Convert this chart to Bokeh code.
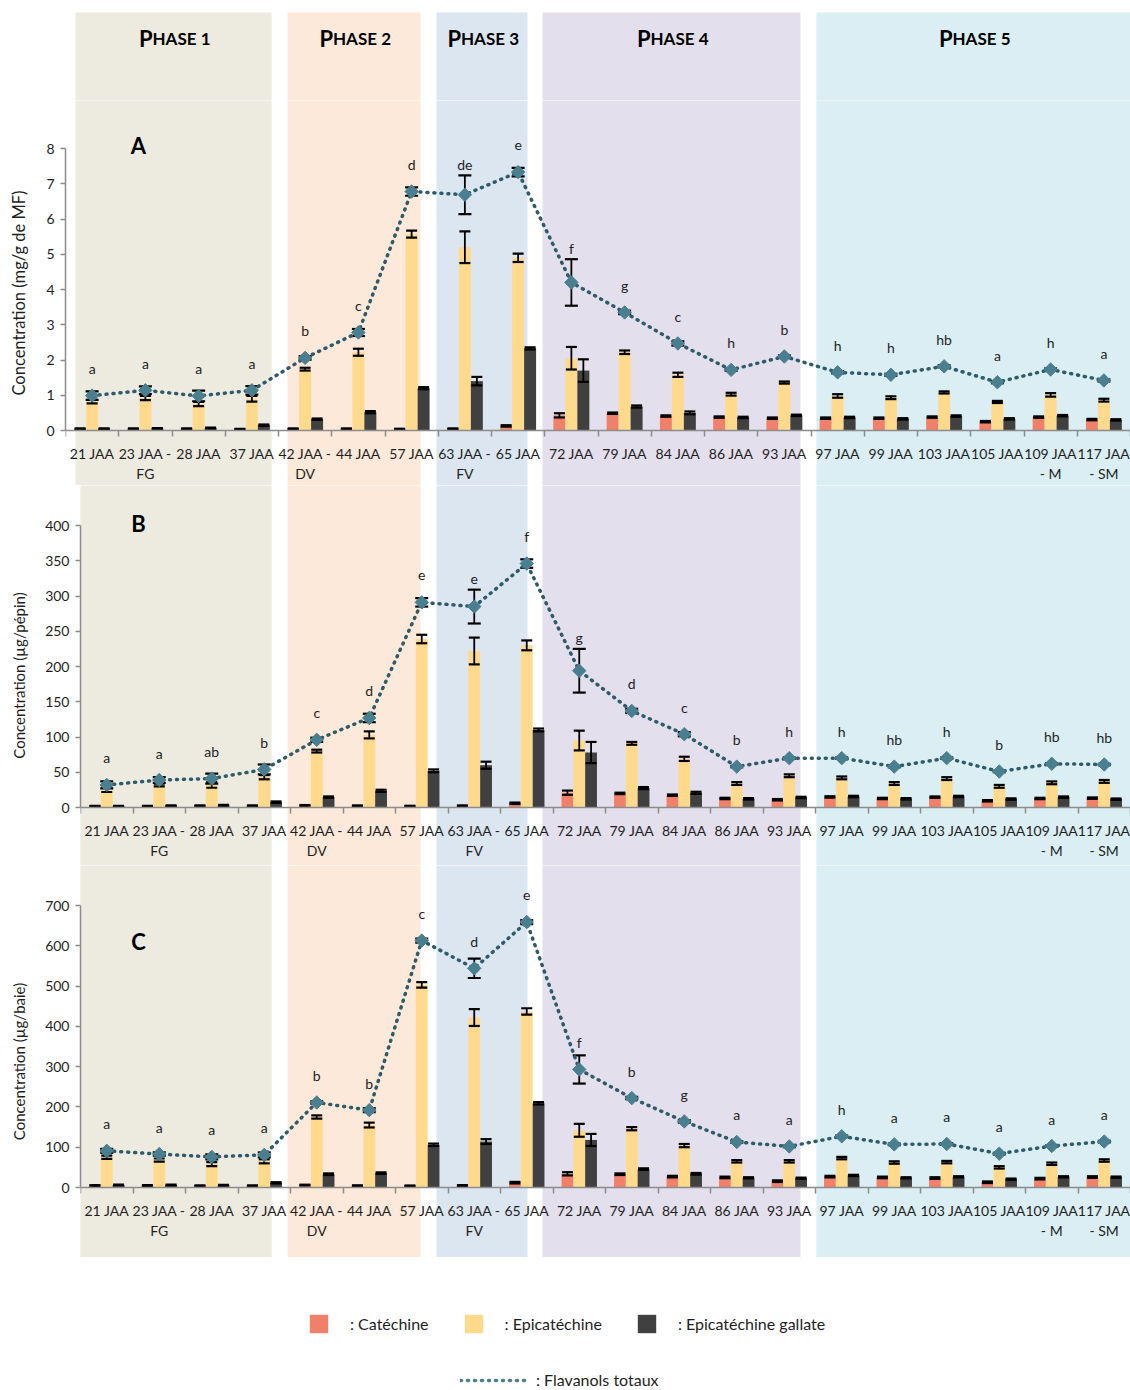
import numpy as np
from bokeh.plotting import figure
from bokeh.models import (Range1d, FixedTicker, Whisker, TeeHead, ColumnDataSource,
                          Legend, LegendItem, Label)
from bokeh.layouts import column
from bokeh.embed import file_html
from bokeh.resources import INLINE
from bokeh.core.properties import value

# ---------------- data ----------------
categories = ["21 JAA", "23 JAA", "28 JAA", "37 JAA", "42 JAA", "44 JAA", "57 JAA",
              "63 JAA", "65 JAA", "72 JAA", "79 JAA", "84 JAA", "86 JAA", "93 JAA",
              "97 JAA", "99 JAA", "103 JAA", "105 JAA", "109 JAA", "117 JAA"]
tick_labels = ["21 JAA", "23 JAA -\nFG", "28 JAA", "37 JAA", "42 JAA -\nDV", "44 JAA",
               "57 JAA", "63 JAA -\nFV", "65 JAA", "72 JAA", "79 JAA", "84 JAA", "86 JAA",
               "93 JAA", "97 JAA", "99 JAA", "103 JAA", "105 JAA", "109 JAA\n- M",
               "117 JAA\n- SM"]
phase_names = ["1", "2", "3", "4", "5"]

# Panel A : mg/g de MF
A_cat = [0.05, 0.05, 0.05, 0.04, 0.05, 0.05, 0.04, 0.05, 0.13, 0.43, 0.49, 0.41, 0.38, 0.35,
         0.35, 0.35, 0.38, 0.25, 0.38, 0.31]
A_cat_err = [0.01, 0.01, 0.01, 0.01, 0.01, 0.01, 0.01, 0.01, 0.02, 0.06, 0.02, 0.02, 0.02, 0.02,
             0.02, 0.02, 0.02, 0.02, 0.02, 0.02]
A_epi = [0.82, 0.92, 0.75, 0.90, 1.74, 2.22, 5.57, 5.20, 4.90, 2.05, 2.22, 1.58, 1.03, 1.36,
         0.98, 0.93, 1.08, 0.81, 1.01, 0.86]
A_epi_err = [0.05, 0.06, 0.06, 0.08, 0.04, 0.10, 0.10, 0.45, 0.12, 0.32, 0.05, 0.06, 0.04, 0.03,
             0.05, 0.04, 0.03, 0.03, 0.05, 0.04]
A_ecg = [0.05, 0.06, 0.07, 0.15, 0.32, 0.52, 1.20, 1.40, 2.33, 1.70, 0.68, 0.50, 0.37, 0.43,
         0.37, 0.33, 0.41, 0.33, 0.42, 0.30]
A_ecg_err = [0.01, 0.01, 0.01, 0.02, 0.02, 0.03, 0.03, 0.12, 0.03, 0.32, 0.03, 0.04, 0.02, 0.02,
             0.02, 0.02, 0.02, 0.02, 0.02, 0.02]
A_tot = [0.99, 1.14, 0.98, 1.14, 2.06, 2.78, 6.78, 6.69, 7.33, 4.20, 3.35, 2.47, 1.72, 2.10,
         1.65, 1.58, 1.82, 1.37, 1.73, 1.42]
A_tot_err = [0.12, 0.11, 0.15, 0.12, 0.05, 0.10, 0.12, 0.55, 0.12, 0.66, 0.05, 0.06, 0.03, 0.03,
             0.03, 0.03, 0.03, 0.03, 0.03, 0.03]
A_letters = ["a", "a", "a", "a", "b", "c", "d", "de", "e", "f", "g", "c", "h", "b", "h", "h",
             "hb", "a", "h", "a"]

# Panel B : µg/pépin
B_cat = [2, 2, 2.5, 2.5, 3, 2.5, 2, 2.5, 6, 21, 20, 17.5, 12.8, 11, 15, 12.8, 14.7, 9.5, 12.8, 13.3]
B_cat_err = [0.5, 0.5, 0.5, 0.5, 0.5, 0.5, 0.5, 0.5, 1, 3, 1, 1, 1, 1, 1, 1, 1, 1, 1, 1]
B_epi = [25, 32, 32, 43, 80, 103, 239, 222, 230, 95, 91, 69, 34, 45, 42, 34, 41, 30, 35, 37]
B_epi_err = [3, 2, 4, 3, 2, 5, 6, 19, 7, 14, 2, 3, 2, 2, 2, 2, 2, 2, 2, 2]
B_ecg = [2, 2.5, 3.3, 7.6, 14.7, 23.7, 52, 60, 110, 78, 27.5, 20.8, 12.3, 14.2, 15.6, 12.3, 15.6,
         12, 14.7, 11.8]
B_ecg_err = [0.5, 0.5, 0.5, 1, 1, 1.5, 2, 5, 2, 15, 1.5, 1.5, 1, 1, 1, 1, 1, 1, 1, 1]
B_tot = [32, 39, 41, 54, 96, 127, 291, 285, 346, 194, 137, 104, 58, 70, 70, 58, 70, 51, 62, 61]
B_tot_err = [5, 4, 7, 7, 3, 6, 6, 24, 6, 31, 3, 3, 1, 1, 1, 1, 1, 1, 1, 1]
B_letters = ["a", "a", "ab", "b", "c", "d", "e", "e", "f", "g", "d", "c", "b", "h", "h", "hb",
             "h", "b", "hb", "hb"]

# Panel C : µg/baie
C_cat = [5, 5, 4.5, 4.5, 6, 4.5, 4, 5, 12, 34, 33, 27, 25, 15.7, 27, 25, 23.5, 13, 22, 26]
C_cat_err = [1, 1, 1, 1, 1, 1, 1, 1, 2, 4, 2, 2, 2, 2, 2, 2, 2, 2, 2, 2]
C_epi = [75, 68, 58, 65, 175, 155, 503, 422, 437, 142, 146, 104, 65, 65, 73, 62, 63, 50, 59, 67]
C_epi_err = [4, 4, 5, 5, 4, 6, 7, 21, 8, 16, 4, 4, 3, 3, 3, 3, 3, 3, 3, 3]
C_ecg = [6, 6, 5.5, 11.6, 33, 35.6, 106, 114, 209, 118, 45.6, 34, 24, 23, 30, 24, 26.5, 20.7,
         26.5, 25.7]
C_ecg_err = [1, 1, 1, 1.5, 2, 2, 3, 6, 3, 15, 2, 2, 1.5, 1.5, 1.5, 1.5, 1.5, 1.5, 1.5, 1.5]
C_tot = [91, 83, 76, 81, 211, 192, 613, 544, 659, 293, 222, 164, 113, 102, 127, 107, 108, 84,
         103, 114]
C_tot_err = [5, 4, 6, 6, 3, 5, 5, 24, 5, 35, 3, 3, 2, 2, 2, 2, 2, 2, 2, 2]
C_letters = ["a", "a", "a", "a", "b", "b", "c", "d", "e", "f", "b", "g", "a", "a", "h", "a", "a",
             "a", "a", "a"]

# ---------------- style / layout ----------------
FONT = "Lato"
COL_CAT = "#F0806A"
COL_EPI = "#FFD98C"
COL_ECG = "#404040"
COL_MARK = "#4A7F90"
COL_LINE = "#2E5B6A"
AXIS_GRAY = "#8C8C8C"
TXT = "#1E1E1E"
PAGE_W = 1130
RIGHT_PX = 1130
BW = 0.225
phase_px = [(75, 271), (287, 420), (436, 527), (542, 800), (816, 1130)]
phase_colors = ["#EDEAE0", "#FDE9D9", "#DCE6F1", "#E4DFEC", "#DAEEF3"]
N = len(categories)


def no_align(p):
    if "frame_align" in p.properties():
        p.frame_align = False


def make_panel(fig_top, fig_h, frame_left, y0_px, ytop_px, ymax, ystep, ylabel, ylabel_size,
               letter, letter_py, cat, cat_err, epi, epi_err, ecg, ecg_err, tot, tot_err,
               letters):
    s = (y0_px - ytop_px) / ymax
    y_start = -(fig_top + fig_h - y0_px) / s
    y_end = ymax + (ytop_px - fig_top) / s
    sx = (RIGHT_PX - frame_left) / N

    def px2x(px):
        return (px - frame_left) / sx - 0.5

    def px2y(py):
        return (y0_px - py) / s

    p = figure(width=PAGE_W, height=fig_h, x_range=Range1d(-0.5, N - 0.5),
               y_range=Range1d(y_start, y_end), toolbar_location=None, output_backend="svg",
               min_border_left=frame_left, min_border_right=0, min_border_top=0,
               min_border_bottom=0)
    no_align(p)
    p.outline_line_color = None
    p.grid.visible = False

    # phase bands
    p.quad(left=[px2x(a) for a, b in phase_px], right=[px2x(b) for a, b in phase_px],
           bottom=y_start - 10 * ymax, top=y_end + 10 * ymax, fill_color=phase_colors,
           line_color=None, level="image")

    x = np.arange(N)
    cat = np.array(cat, float); epi = np.array(epi, float); ecg = np.array(ecg, float)
    tot = np.array(tot, float)
    cat_err = np.array(cat_err, float); epi_err = np.array(epi_err, float)
    ecg_err = np.array(ecg_err, float); tot_err = np.array(tot_err, float)
    # letter offset above the total marker (px): clear the error bar when it is tall
    loff = -np.maximum(27.0, tot_err * s + 11.0)
    src = ColumnDataSource(dict(
        x=x, xc=x - BW, xe=x, xg=x + BW,
        cat=cat, epi=epi, ecg=ecg, tot=tot,
        cat_lo=cat - cat_err, cat_hi=cat + cat_err,
        epi_lo=epi - epi_err, epi_hi=epi + epi_err,
        ecg_lo=ecg - ecg_err, ecg_hi=ecg + ecg_err,
        tot_lo=tot - tot_err, tot_hi=tot + tot_err,
        letters=letters, loff=loff))

    p.vbar(x="xc", top="cat", width=BW, source=src, fill_color=COL_CAT, line_color=None,
           level="underlay")
    p.vbar(x="xe", top="epi", width=BW, source=src, fill_color=COL_EPI, line_color=None,
           level="underlay")
    p.vbar(x="xg", top="ecg", width=BW, source=src, fill_color=COL_ECG, line_color=None,
           level="underlay")

    for base, key in (("xc", "cat"), ("xe", "epi"), ("xg", "ecg")):
        w = Whisker(source=src, base=base, lower=key + "_lo", upper=key + "_hi",
                    line_color="black", line_width=1.8,
                    upper_head=TeeHead(size=11, line_width=2.2, line_color="black"),
                    lower_head=TeeHead(size=11, line_width=2.2, line_color="black"),
                    level="glyph")
        p.add_layout(w)
    wt = Whisker(source=src, base="x", lower="tot_lo", upper="tot_hi",
                 line_color="black", line_width=1.8,
                 upper_head=TeeHead(size=13, line_width=2.2, line_color="black"),
                 lower_head=TeeHead(size=13, line_width=2.2, line_color="black"),
                 level="glyph")
    p.add_layout(wt)

    p.line("x", "tot", source=src, line_color=COL_LINE, line_width=3.5, line_dash="1 6",
           line_cap="round", level="annotation")
    p.scatter("x", "tot", source=src, marker="square", angle=np.pi / 4, size=9.5,
              fill_color=COL_MARK, line_color=COL_MARK, level="annotation")
    p.text("x", "tot", text="letters", source=src, y_offset="loff", text_align="center",
           text_baseline="middle", text_font=value(FONT), text_font_size="14px",
           text_color=TXT, level="overlay")

    p.add_layout(Label(x=px2x(138), y=px2y(letter_py), text=letter, text_font=FONT,
                       text_font_size="22px", text_font_style="bold", text_align="center",
                       text_baseline="middle", text_color="#000000"))

    # y axis
    yax = p.yaxis[0]
    yax.ticker = FixedTicker(ticks=list(np.arange(0, ymax + ystep / 2, ystep)), minor_ticks=[])
    yax.bounds = (0, ymax)
    yax.axis_label = ylabel
    yax.axis_label_text_font = FONT
    yax.axis_label_text_font_size = ylabel_size
    yax.axis_label_text_font_style = "normal"
    yax.axis_label_text_color = TXT
    yax.axis_label_standoff = 14
    yax.major_label_text_font = FONT
    yax.major_label_text_font_size = "14px"
    yax.major_label_text_color = TXT
    yax.major_label_standoff = 6
    yax.axis_line_color = AXIS_GRAY
    yax.axis_line_width = 1.5
    yax.major_tick_line_color = AXIS_GRAY
    yax.major_tick_line_width = 1.5
    yax.major_tick_out = 5
    yax.major_tick_in = 0
    yax.minor_tick_line_color = None

    # x axis (at y = 0)
    xax = p.xaxis[0]
    xax.fixed_location = 0
    xax.ticker = FixedTicker(ticks=list(range(N)), minor_ticks=[i - 0.5 for i in range(N + 1)])
    xax.major_label_overrides = {i: lab for i, lab in enumerate(tick_labels)}
    xax.major_label_text_font = FONT
    xax.major_label_text_font_size = "14px"
    xax.major_label_text_color = TXT
    xax.major_label_standoff = 8
    xax.major_tick_line_color = None
    xax.major_tick_out = 0
    xax.major_tick_in = 0
    xax.minor_tick_line_color = AXIS_GRAY
    xax.minor_tick_line_width = 1.5
    xax.minor_tick_out = 6
    xax.minor_tick_in = 0
    xax.axis_line_color = AXIS_GRAY
    xax.axis_line_width = 1.5
    return p


# ---------------- header with phases ----------------
HDR_TOP, HDR_BOT = 0, 100
hdr = figure(width=PAGE_W, height=HDR_BOT - HDR_TOP, x_range=Range1d(0, PAGE_W),
             y_range=Range1d(HDR_BOT, HDR_TOP), toolbar_location=None, output_backend="svg",
             x_axis_location=None, y_axis_location=None, min_border=0)
no_align(hdr)
hdr.outline_line_color = None
hdr.grid.visible = False
hdr.quad(left=[a for a, b in phase_px], right=[b for a, b in phase_px], top=12,
         bottom=HDR_BOT + 50, fill_color=phase_colors, line_color=None)
centers = [(a + b) / 2 for a, b in phase_px]
split = [c - 21 for c in centers]
hdr.text(x=split, y=[38] * 5, text=["P"] * 5, text_align="right", text_baseline="alphabetic",
         text_font=value(FONT), text_font_size="22px", text_font_style="bold",
         text_color="#000000")
hdr.text(x=split, y=[38] * 5, text=["HASE " + n for n in phase_names], text_align="left",
         text_baseline="alphabetic", text_font=value(FONT), text_font_size="17px",
         text_font_style="bold", text_color="#000000")

pA = make_panel(100, 385, 65, 430, 148, 8, 1, "Concentration (mg/g de MF)", "16.5px", "A", 145,
                A_cat, A_cat_err, A_epi, A_epi_err, A_ecg, A_ecg_err, A_tot, A_tot_err,
                A_letters)
pB = make_panel(485, 380, 80, 807, 525, 400, 50, "Concentration (µg/pépin)", "15px", "B", 523,
                B_cat, B_cat_err, B_epi, B_epi_err, B_ecg, B_ecg_err, B_tot, B_tot_err,
                B_letters)
pC = make_panel(865, 392, 80, 1187, 905, 700, 100, "Concentration (µg/baie)", "15px", "C", 941,
                C_cat, C_cat_err, C_epi, C_epi_err, C_ecg, C_ecg_err, C_tot, C_tot_err,
                C_letters)

# ---------------- legend ----------------
LEG_TOP, LEG_BOT = 1257, 1390
leg = figure(width=PAGE_W, height=LEG_BOT - LEG_TOP, x_range=Range1d(0, PAGE_W),
             y_range=Range1d(LEG_BOT, LEG_TOP), toolbar_location=None, output_backend="svg",
             x_axis_location=None, y_axis_location=None, min_border=0)
no_align(leg)
leg.outline_line_color = None
leg.grid.visible = False
# legend-only renderers, placed outside the visible range
off = ColumnDataSource(dict(l=[-50], r=[-40], t=[-50], b=[-40]))
offl = ColumnDataSource(dict(x=[-50, -40], y=[-50, -50]))
r_cat = leg.quad(left="l", right="r", top="t", bottom="b", source=off, fill_color=COL_CAT,
                 line_color=None)
r_epi = leg.quad(left="l", right="r", top="t", bottom="b", source=off, fill_color=COL_EPI,
                 line_color=None)
r_ecg = leg.quad(left="l", right="r", top="t", bottom="b", source=off, fill_color=COL_ECG,
                 line_color=None)
r_tot = leg.line("x", "y", source=offl, line_color=COL_MARK, line_width=3.5, line_dash="1 6",
                 line_cap="round")

leg1 = Legend(items=[LegendItem(label=": Catéchine", renderers=[r_cat]),
                     LegendItem(label=": Epicatéchine", renderers=[r_epi]),
                     LegendItem(label=": Epicatéchine gallate", renderers=[r_ecg])],
              orientation="horizontal", location=(307, 55), glyph_width=23, glyph_height=23,
              label_standoff=20, spacing=33, padding=0, margin=0, border_line_color=None,
              background_fill_alpha=0, label_text_font=FONT, label_text_font_size="16px",
              label_text_color=TXT)
leg2 = Legend(items=[LegendItem(label=": Flavanols totaux", renderers=[r_tot])],
              orientation="horizontal", location=(460, 1), glyph_width=70, glyph_height=16,
              label_standoff=6, padding=0, margin=0, border_line_color=None,
              background_fill_alpha=0, label_text_font=FONT, label_text_font_size="16px",
              label_text_color=TXT)
leg.add_layout(leg1)
leg.add_layout(leg2)

layout = column(hdr, pA, pB, pC, leg, spacing=0)
open("out.html", "w").write(file_html(layout, INLINE))
